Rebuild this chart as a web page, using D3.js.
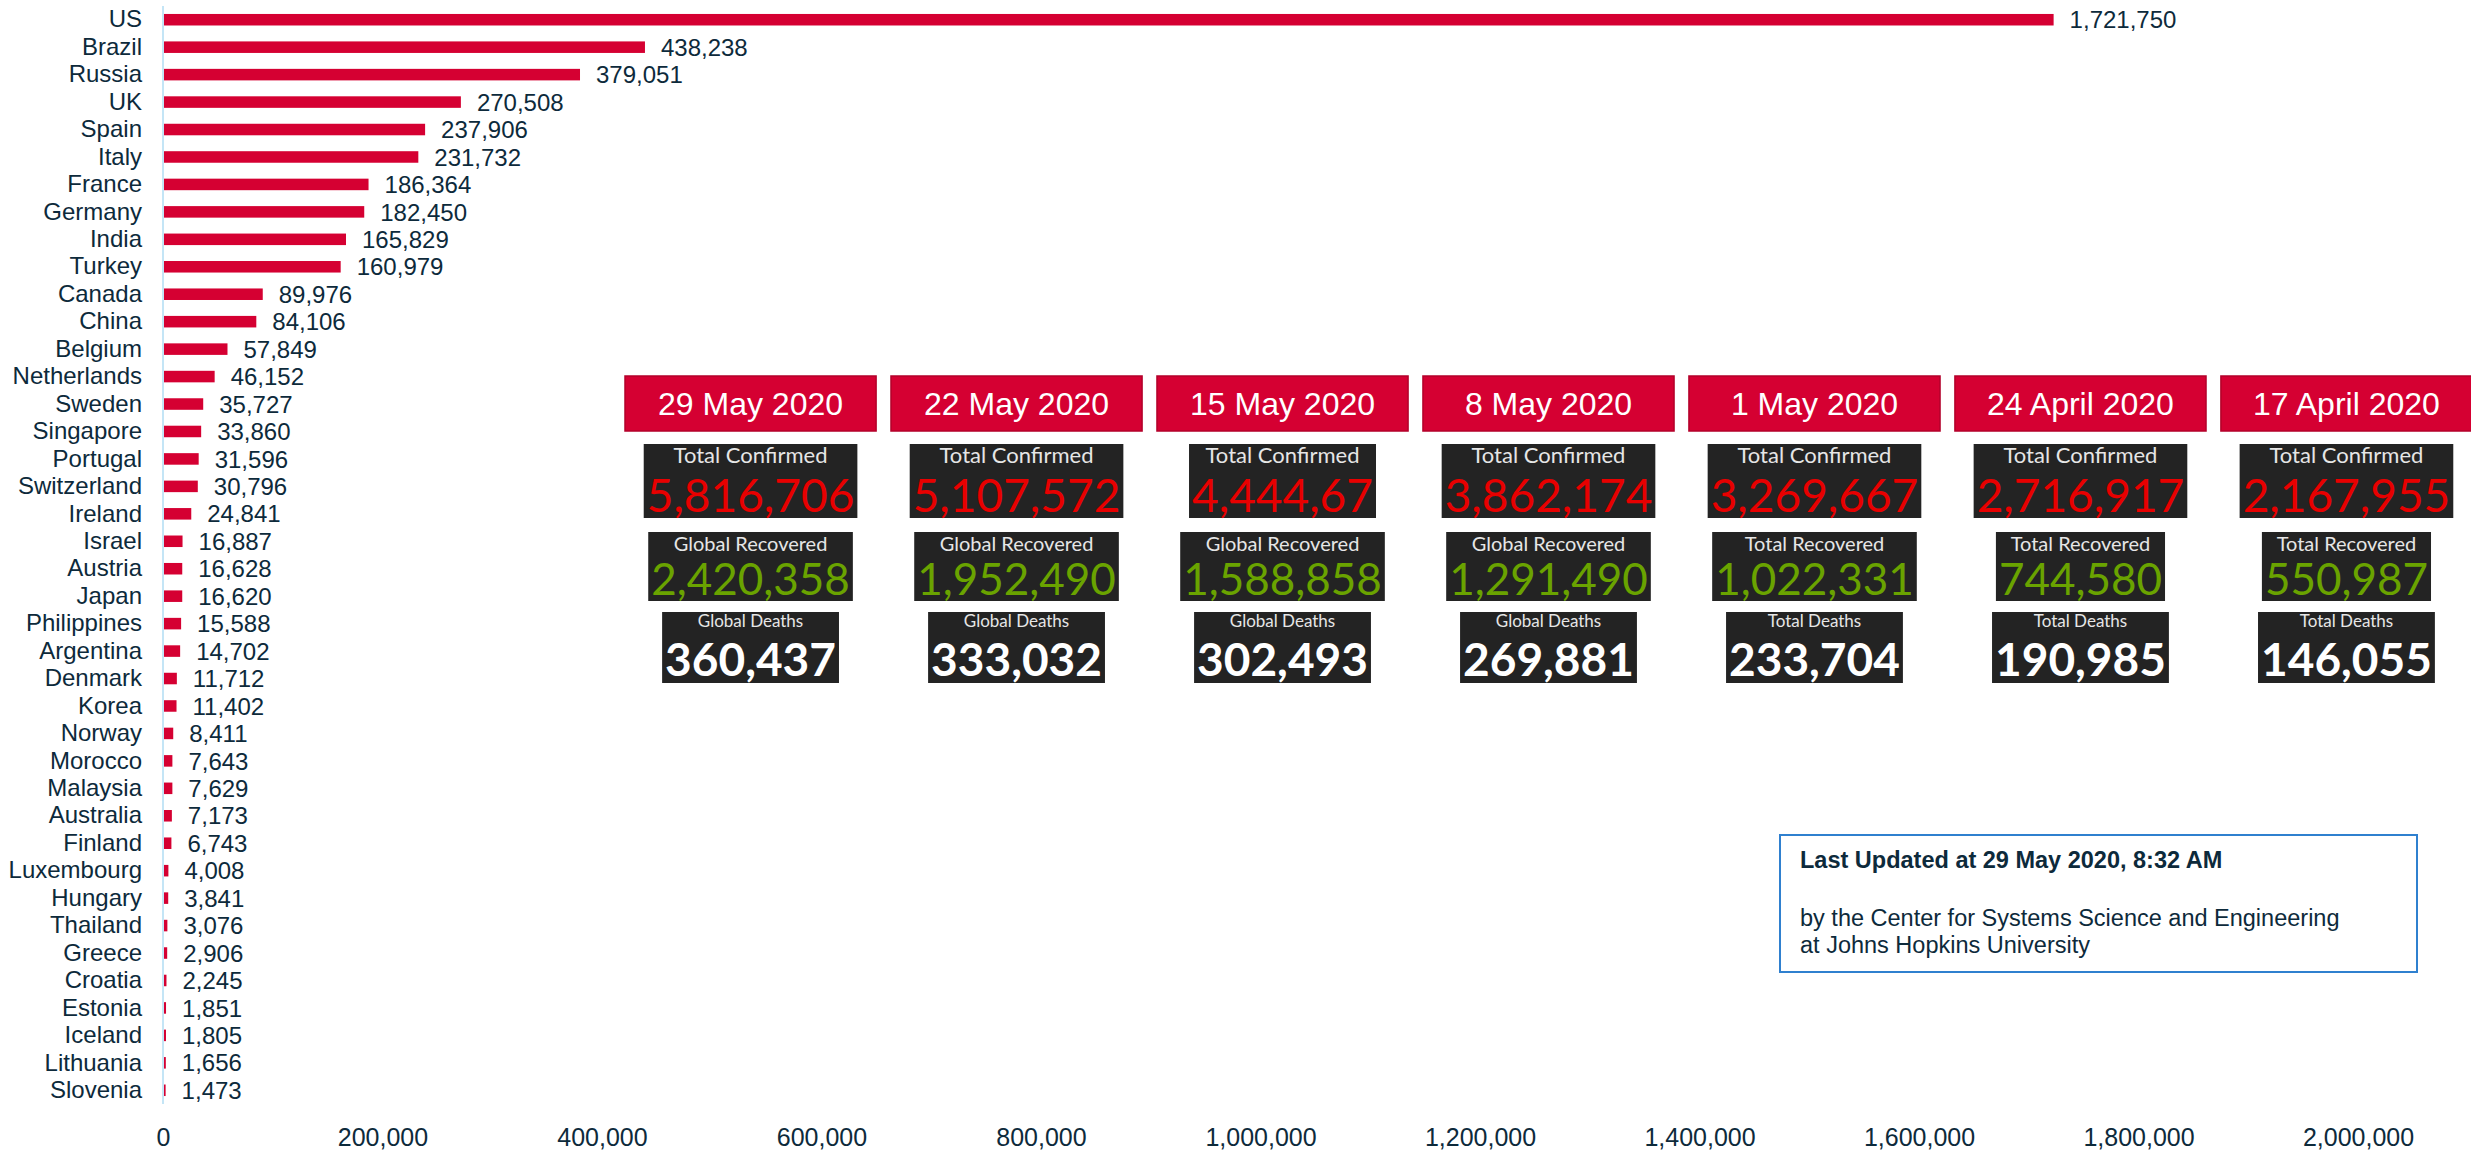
<!DOCTYPE html>
<html>
<head>
<meta charset="utf-8">
<script src="https://cdn.jsdelivr.net/npm/d3@7"></script>
<style>
  body { margin: 0; background: #fff; }
  svg { display: block; }
</style>
</head>
<body>
<svg id="chart" width="2471" height="1152"></svg>
<script>
// confirmed cases by country
const countries = ["US", "Brazil", "Russia", "UK", "Spain", "Italy", "France", "Germany", "India", "Turkey",
  "Canada", "China", "Belgium", "Netherlands", "Sweden", "Singapore", "Portugal", "Switzerland", "Ireland", "Israel",
  "Austria", "Japan", "Philippines", "Argentina", "Denmark", "Korea", "Norway", "Morocco", "Malaysia", "Australia",
  "Finland", "Luxembourg", "Hungary", "Thailand", "Greece", "Croatia", "Estonia", "Iceland", "Lithuania", "Slovenia"];
const cases = [1721750, 438238, 379051, 270508, 237906, 231732, 186364, 182450, 165829, 160979,
  89976, 84106, 57849, 46152, 35727, 33860, 31596, 30796, 24841, 16887,
  16628, 16620, 15588, 14702, 11712, 11402, 8411, 7643, 7629, 7173,
  6743, 4008, 3841, 3076, 2906, 2245, 1851, 1805, 1656, 1473];
const xTicks = [0, 200000, 400000, 600000, 800000, 1000000, 1200000, 1400000, 1600000, 1800000, 2000000];

// weekly snapshots (as shown on the dashboard captures)
const dates = ["29 May 2020", "22 May 2020", "15 May 2020", "8 May 2020", "1 May 2020", "24 April 2020", "17 April 2020"];
const confirmedTitles = ["Total Confirmed", "Total Confirmed", "Total Confirmed", "Total Confirmed", "Total Confirmed", "Total Confirmed", "Total Confirmed"];
const confirmedVals = ["5,816,706", "5,107,572", "4,444,67", "3,862,174", "3,269,667", "2,716,917", "2,167,955"];
const recoveredTitles = ["Global Recovered", "Global Recovered", "Global Recovered", "Global Recovered", "Total Recovered", "Total Recovered", "Total Recovered"];
const recoveredVals = ["2,420,358", "1,952,490", "1,588,858", "1,291,490", "1,022,331", "744,580", "550,987"];
const deathsTitles = ["Global Deaths", "Global Deaths", "Global Deaths", "Global Deaths", "Total Deaths", "Total Deaths", "Total Deaths"];
const deathsVals = ["360,437", "333,032", "302,493", "269,881", "233,704", "190,985", "146,055"];

const noteLines = ["Last Updated at 29 May 2020, 8:32 AM", "by the Center for Systems Science and Engineering", "at Johns Hopkins University"];

const red = "#d50032", navy = "#0d2a3b";
const svg = d3.select("#chart");

var x = d3.scaleLinear().domain([0, 2000000]).range([163, 2358]);
var y = d3.scaleBand().domain(countries).range([6, 1104]).paddingInner(0.58).paddingOuter(0.29);

// axis line on the left
svg.append("line")
  .attr("x1", x(0)).attr("x2", x(0))
  .attr("y1", y.range()[0]).attr("y2", y.range()[1])
  .attr("stroke", "#c4e5f6").attr("stroke-width", 2);

// country names
var yAxis = svg.append("g")
  .attr("transform", "translate(" + x(0) + ",0)")
  .call(d3.axisLeft(y).tickSize(0).tickPadding(21));
yAxis.select(".domain").remove();
yAxis.selectAll("text")
  .attr("font-family", "'Liberation Sans', Arial, sans-serif")
  .attr("font-size", "24px")
  .attr("fill", navy);

var data = countries.map(function(c, i) { return { name: c, value: cases[i] }; });

svg.append("g").selectAll("rect")
  .data(data).enter().append("rect")
  .attr("x", x(0) + 1)
  .attr("y", function(d) { return y(d.name); })
  .attr("width", function(d) { return Math.max(1, x(d.value) - x(0)); })
  .attr("height", y.bandwidth())
  .attr("fill", red);

svg.append("g").selectAll("text")
  .data(data).enter().append("text")
  .attr("x", function(d) { return x(d.value) + 17; })
  .attr("y", function(d) { return y(d.name) + y.bandwidth() / 2; })
  .attr("dy", "0.36em")
  .attr("font-family", "'Liberation Sans', Arial, sans-serif")
  .attr("font-size", "24px")
  .attr("fill", navy)
  .text(function(d) { return d3.format(",")(d.value); });

// bottom axis, labels only
var xAxis = svg.append("g")
  .attr("transform", "translate(0," + y.range()[1] + ")")
  .call(d3.axisBottom(x).tickValues(xTicks).tickFormat(d3.format(",")).tickSize(0).tickPadding(24));
xAxis.select(".domain").remove();
xAxis.selectAll("text")
  .attr("font-family", "'Liberation Sans', Arial, sans-serif")
  .attr("font-size", "25px")
  .attr("fill", navy);

// snapshot cards
var col = d3.scaleBand().domain(dates).range([625, 2472]).paddingInner(0.056);

var heads = svg.append("g").selectAll("g")
  .data(dates).enter().append("g");
heads.append("rect")
  .attr("x", function(d) { return col(d); })
  .attr("y", 376)
  .attr("width", col.bandwidth())
  .attr("height", 55)
  .attr("fill", red)
  .attr("stroke", "#b3002a")
  .attr("stroke-width", 1.5);
heads.append("text")
  .attr("x", function(d) { return col(d) + col.bandwidth() / 2; })
  .attr("y", 415)
  .attr("text-anchor", "middle")
  .attr("font-family", "'Liberation Sans', Arial, sans-serif")
  .attr("font-size", "32px")
  .attr("fill", "#fff")
  .text(function(d) { return d; });

var rows = [
  { titles: confirmedTitles, vals: confirmedVals, top: 444, h: 74, tSize: 22, tBase: 463, nSize: 46, nBase: 512, color: "#e80000", weight: 400 },
  { titles: recoveredTitles, vals: recoveredVals, top: 532, h: 69, tSize: 20, tBase: 551, nSize: 44, nBase: 595, color: "#6aa300", weight: 400 },
  { titles: deathsTitles, vals: deathsVals, top: 612, h: 71, tSize: 17, tBase: 627, nSize: 46, nBase: 676, color: "#ffffff", weight: 700 }
];

rows.forEach(function(r) {
  dates.forEach(function(d, i) {
    var cx = col(d) + col.bandwidth() / 2;
    var g = svg.append("g");
    var box = g.append("rect").attr("fill", "#232323");
    var t = g.append("text")
      .attr("x", cx).attr("y", r.tBase)
      .attr("text-anchor", "middle")
      .attr("font-family", "Lato, 'Open Sans', sans-serif")
      .attr("font-size", r.tSize + "px")
      .attr("fill", "#e6e6e6")
      .text(r.titles[i]);
    var n = g.append("text")
      .attr("x", cx).attr("y", r.nBase)
      .attr("text-anchor", "middle")
      .attr("font-family", "Lato, 'Open Sans', sans-serif")
      .attr("font-size", r.nSize + "px")
      .attr("font-weight", r.weight)
      .attr("fill", r.color)
      .text(r.vals[i]);
    var w = Math.max(t.node().getComputedTextLength(), n.node().getComputedTextLength()) + 6;
    box.attr("x", cx - w / 2).attr("y", r.top).attr("width", w).attr("height", r.h);
  });
});

// note box
svg.append("rect")
  .attr("x", 1780).attr("y", 835)
  .attr("width", 637).attr("height", 137)
  .attr("fill", "none")
  .attr("stroke", "#2f80cf")
  .attr("stroke-width", 2);
svg.append("g").selectAll("text")
  .data(noteLines).enter().append("text")
  .attr("x", 1800)
  .attr("y", function(d, i) { return [868, 926, 953][i]; })
  .attr("font-family", "'Liberation Sans', Arial, sans-serif")
  .attr("font-size", "23.5px")
  .attr("font-weight", function(d, i) { return i == 0 ? 700 : 400; })
  .attr("fill", navy)
  .text(function(d) { return d; });
</script>
</body>
</html>
